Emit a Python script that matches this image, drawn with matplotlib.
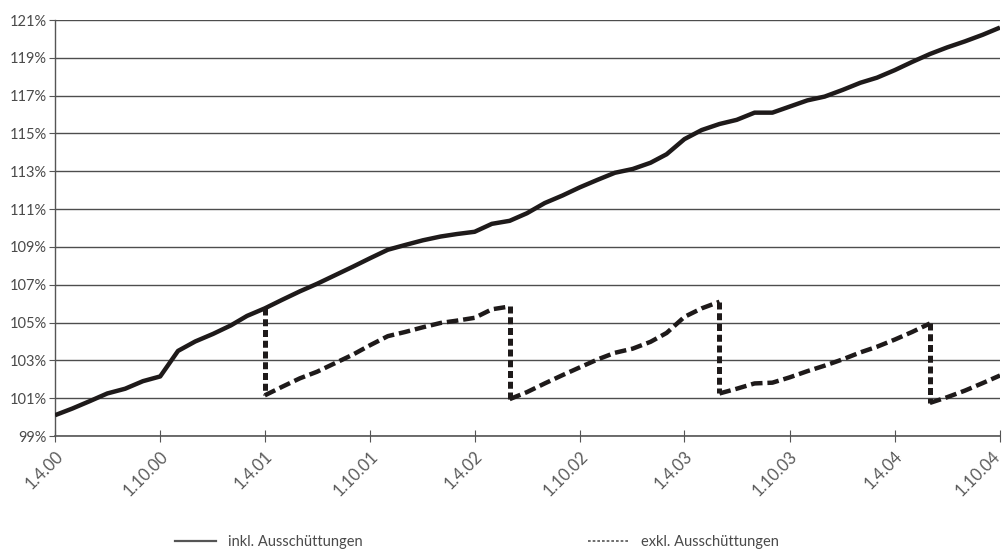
import matplotlib
matplotlib.use("Agg")
import matplotlib.pyplot as plt
import matplotlib.transforms as mtransforms
from matplotlib.lines import Line2D
import pandas as pd

# ---------------- data ----------------
inkl_dates = pd.date_range("2000-04-01", "2004-10-01", freq="MS")
inkl_values = [
    100.10, 100.45, 100.85, 101.25, 101.50, 101.90, 102.15, 103.50, 104.00, 104.40,
    104.85, 105.35, 105.75, 106.20, 106.65, 107.05, 107.50, 107.95, 108.40, 108.85,
    109.10, 109.35, 109.55, 109.68, 109.80, 110.22, 110.38, 110.78, 111.32, 111.72,
    112.15, 112.55, 112.92, 113.12, 113.45, 113.90, 114.70, 115.18, 115.50, 115.72,
    116.10, 116.10, 116.42, 116.75, 116.95, 117.30, 117.68, 117.95, 118.35, 118.78,
    119.20, 119.55, 119.87, 120.22, 120.60,
]

exkl_dates = pd.to_datetime([
    "2001-04-01", "2001-04-01", "2001-05-01", "2001-06-01", "2001-07-01", "2001-08-01",
    "2001-09-01", "2001-10-01", "2001-11-01", "2001-12-01", "2002-01-01", "2002-02-01",
    "2002-03-01", "2002-04-01", "2002-05-01", "2002-06-01",
    "2002-06-01", "2002-07-01", "2002-08-01", "2002-09-01", "2002-10-01", "2002-11-01",
    "2002-12-01", "2003-01-01", "2003-02-01", "2003-03-01", "2003-04-01", "2003-05-01",
    "2003-06-01",
    "2003-06-01", "2003-07-01", "2003-08-01", "2003-09-01", "2003-10-01", "2003-11-01",
    "2003-12-01", "2004-01-01", "2004-02-01", "2004-03-01", "2004-04-01", "2004-05-01",
    "2004-06-01",
    "2004-06-01", "2004-07-01", "2004-08-01", "2004-09-01", "2004-10-01",
])
exkl_values = [
    105.75, 101.15, 101.60, 102.05, 102.40, 102.85, 103.30, 103.80, 104.28, 104.50,
    104.75, 104.98, 105.10, 105.25, 105.70, 105.85,
    100.95, 101.32, 101.78, 102.22, 102.63, 103.05, 103.40, 103.62, 103.98, 104.45,
    105.30, 105.75, 106.10,
    101.25, 101.50, 101.78, 101.82, 102.10, 102.43, 102.72, 103.05, 103.42, 103.72,
    104.10, 104.50, 104.95,
    100.75, 101.05, 101.40, 101.80, 102.20,
]

tick_dates = pd.date_range("2000-04-01", "2004-10-01", freq="6MS")
tick_labels = ["1.4.00", "1.10.00", "1.4.01", "1.10.01", "1.4.02",
               "1.10.02", "1.4.03", "1.10.03", "1.4.04", "1.10.04"]
y_ticks = list(range(99, 122, 2))

series_labels = ["inkl. Ausschüttungen", "exkl. Ausschüttungen"]

# ---------------- style ----------------
plt.rcParams["font.family"] = ["Lato", "DejaVu Sans"]
text_col = "#4a4a4a"
xlab_col = "#5a5a5a"
line_col = "#1e1a1a"
grid_col = "#4d4d4d"

fig = plt.figure(figsize=(10.05, 5.51), dpi=100)
ax = fig.add_axes([55 / 1005, 1 - 436 / 551, 945 / 1005, 416 / 551])

ax.set_xlim(inkl_dates[0], inkl_dates[-1])
ax.set_ylim(99, 121)

# grid
ax.set_yticks(y_ticks)
ax.set_yticklabels([f"{v}%" for v in y_ticks])
ax.yaxis.grid(True, color=grid_col, linewidth=1.0)
ax.set_axisbelow(True)

# lines
ax.plot(inkl_dates, inkl_values, color=line_col, linewidth=3.2,
        solid_joinstyle="round", solid_capstyle="butt", zorder=3)

# exkl: sloped parts dashed, vertical drops square-dotted
exkl_x = list(exkl_dates)
seg_start = 0
for i in range(1, len(exkl_x)):
    if exkl_x[i] == exkl_x[i - 1]:
        if i - 1 > seg_start:
            ax.plot(exkl_x[seg_start:i], exkl_values[seg_start:i], color=line_col,
                    linewidth=3.2, dashes=(2.6, 1.1), zorder=4)
        ax.plot(exkl_x[i - 1:i + 1], exkl_values[i - 1:i + 1], color=line_col,
                linewidth=3.6, dashes=(1.4, 0.75), dash_capstyle="butt", zorder=4)
        seg_start = i
ax.plot(exkl_x[seg_start:], exkl_values[seg_start:], color=line_col,
        linewidth=3.2, dashes=(2.6, 1.1), zorder=4)

# axes styling
for s in ["top", "right"]:
    ax.spines[s].set_visible(False)
ax.spines["left"].set_color("#555555")
ax.spines["bottom"].set_color("#555555")
ax.spines["left"].set_linewidth(1.0)
ax.spines["bottom"].set_linewidth(1.2)

ax.tick_params(axis="y", direction="out", length=4, width=0.8, color="#555555",
               pad=2, labelsize=10.5, labelcolor=text_col)
ax.set_xticks(tick_dates)
ax.set_xticklabels(tick_labels)
ax.tick_params(axis="x", direction="inout", length=8, width=0.8, color="#555555",
               pad=5, labelsize=12, labelcolor=xlab_col)
labels = ax.get_xticklabels()
for k, lab in enumerate(labels):
    dx = 11 if k < len(labels) - 1 else 3
    offset = mtransforms.ScaledTranslation(dx / 100, 0, fig.dpi_scale_trans)
    lab.set_rotation(45)
    lab.set_ha("right")
    lab.set_va("top")
    lab.set_transform(lab.get_transform() + offset)

# legend
handles = [
    Line2D([], [], color="#555555", linewidth=1.6),
    Line2D([], [], color="#555555", linewidth=1.2, dashes=(1.6, 1.2)),
]
fig.legend(handles, series_labels, loc="center", bbox_to_anchor=(477 / 1005, 1 - 542 / 551),
           ncol=2, frameon=False, fontsize=10.5, handlelength=2.8, handletextpad=0.8,
           columnspacing=15.5, labelcolor=text_col, borderaxespad=0, borderpad=0)

fig.savefig("out.png", dpi=100)
